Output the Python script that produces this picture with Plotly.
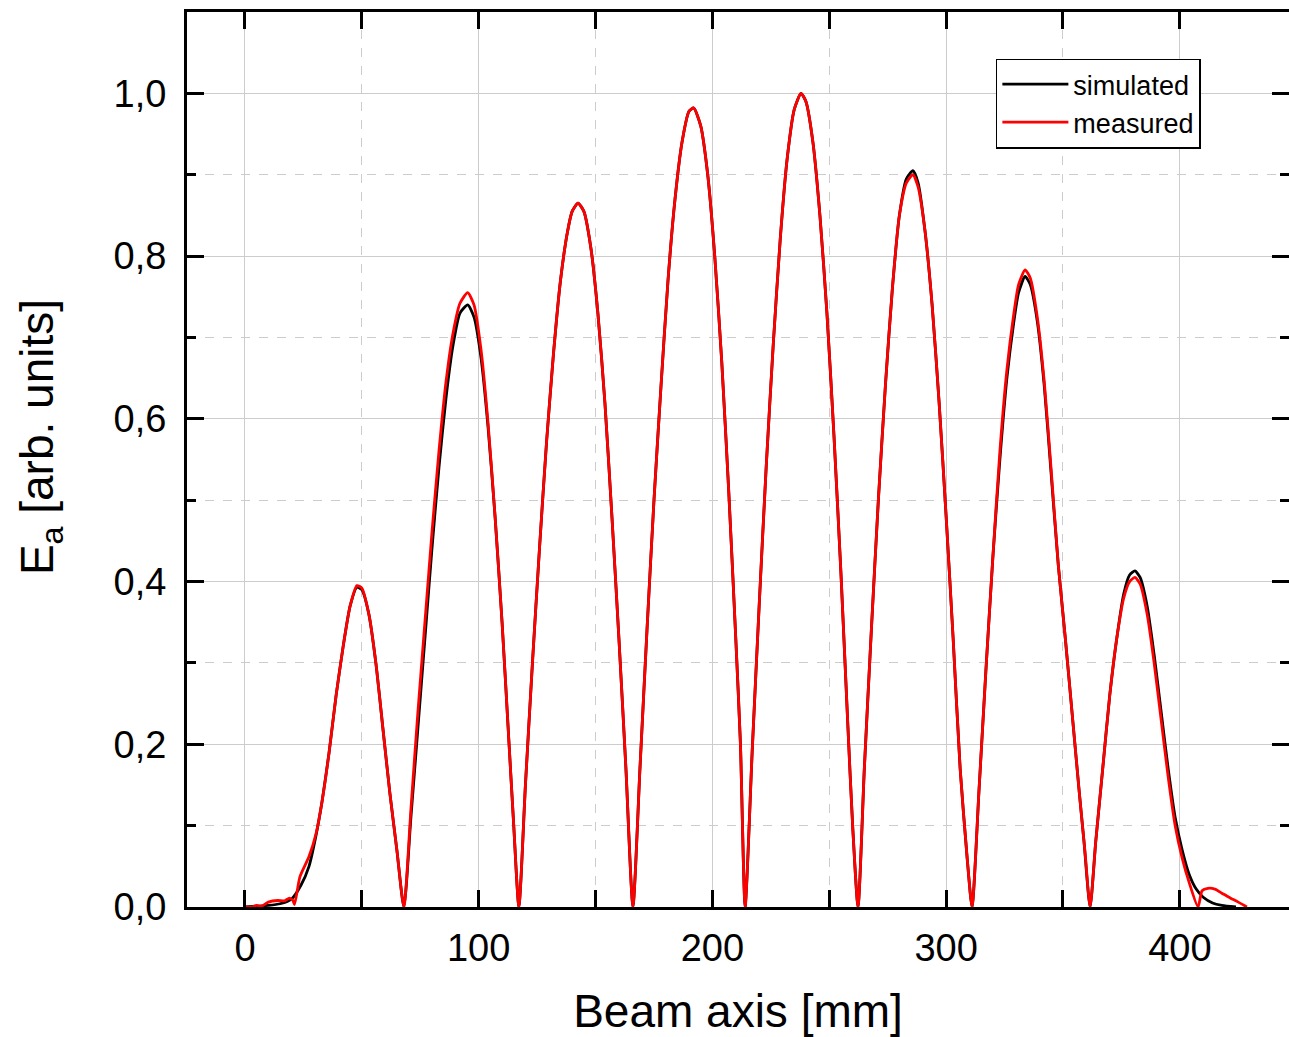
import plotly.graph_objects as go

# ---- data ----
sim_x = [0, 5, 10, 15, 20, 24, 27.4, 30.4, 33, 36, 39, 42, 45, 47.9, 50, 53, 56, 59, 62, 65, 68.0,
         71, 74, 77, 80, 83, 86, 89, 92, 95.3, 98, 101, 104, 107, 110, 113, 115, 117.2,
         120, 123, 126, 129, 132, 135, 138, 140, 142.5, 145, 148, 151, 154, 157, 160, 163, 166.0,
         169, 172, 175, 178, 181, 184, 187, 190, 192, 195, 198, 201, 204, 207, 210, 212, 214.0,
         217, 220, 223, 226, 229, 232, 235, 237.9, 240, 243, 246, 249, 252, 255, 258, 260, 262.3,
         265, 268, 271, 274, 277, 280, 283, 285.8, 288, 291, 294, 297, 300, 303, 306, 309, 311.1,
         314, 317, 320, 323, 326, 329, 331, 333.8, 336, 339, 342, 345, 348, 351, 354, 357, 359, 361.6,
         364, 367, 370, 373, 376, 378.5, 380.8, 383, 386, 389, 392, 395, 398, 401, 404, 407, 410, 414, 418, 424]
sim_y = [0, 0.001, 0.002, 0.004, 0.01, 0.027, 0.05, 0.088, 0.13, 0.19, 0.26, 0.32, 0.37, 0.393, 0.39, 0.36, 0.30, 0.22, 0.14, 0.07, 0.0,
         0.11, 0.22, 0.33, 0.44, 0.54, 0.625, 0.69, 0.73, 0.74, 0.725, 0.675, 0.59, 0.48, 0.35, 0.2, 0.1, 0.0,
         0.15, 0.3, 0.44, 0.57, 0.68, 0.77, 0.83, 0.855, 0.865, 0.855, 0.81, 0.73, 0.62, 0.48, 0.33, 0.17, 0.0,
         0.17, 0.34, 0.5, 0.64, 0.77, 0.87, 0.94, 0.978, 0.982, 0.96, 0.9, 0.8, 0.67, 0.51, 0.33, 0.2, 0.0,
         0.19, 0.37, 0.54, 0.69, 0.82, 0.92, 0.98, 1.0, 0.99, 0.94, 0.85, 0.73, 0.58, 0.41, 0.22, 0.1, 0.0,
         0.17, 0.34, 0.5, 0.64, 0.76, 0.85, 0.895, 0.905, 0.89, 0.83, 0.74, 0.62, 0.48, 0.33, 0.17, 0.06, 0.0,
         0.14, 0.29, 0.43, 0.55, 0.65, 0.72, 0.755, 0.775, 0.765, 0.72, 0.64, 0.53, 0.42, 0.33, 0.235, 0.14, 0.08, 0.0,
         0.08, 0.17, 0.26, 0.33, 0.385, 0.408, 0.413, 0.405, 0.37, 0.31, 0.24, 0.17, 0.11, 0.07, 0.04, 0.022, 0.012, 0.005, 0.002, 0.0]

meas_x = [0, 3, 5, 7, 10, 14, 17, 19, 20.5, 21.2, 23.5, 27.4, 30.4, 33, 36, 39, 42, 45, 47.9, 50, 53, 56, 59, 62, 65, 68.0,
          71, 74, 77, 80, 83, 86, 89, 92, 95.3, 98, 101, 104, 107, 110, 113, 115, 117.2,
          120, 123, 126, 129, 132, 135, 138, 140, 142.5, 145, 148, 151, 154, 157, 160, 163, 166.0,
          169, 172, 175, 178, 181, 184, 187, 190, 192, 195, 198, 201, 204, 207, 210, 212, 214.0,
          217, 220, 223, 226, 229, 232, 235, 237.9, 240, 243, 246, 249, 252, 255, 258, 260, 262.3,
          265, 268, 271, 274, 277, 280, 283, 285.8, 288, 291, 294, 297, 300, 303, 306, 309, 311.1,
          314, 317, 320, 323, 326, 329, 331, 333.8, 336, 339, 342, 345, 348, 351, 354, 357, 359.5, 361.6,
          364, 367, 370, 373, 376, 378.5, 380.8, 383, 386, 389, 392, 395, 398, 401, 404, 407.8,
          409.5, 412, 415, 418, 421, 425, 428.7]
meas_y = [0, 0.0, 0.002, 0.001, 0.006, 0.008, 0.0075, 0.011, 0.008, 0.003, 0.037, 0.062, 0.09, 0.13, 0.19, 0.26, 0.32, 0.37, 0.395, 0.392, 0.36, 0.30, 0.22, 0.14, 0.07, 0.0,
          0.12, 0.24, 0.35, 0.46, 0.56, 0.645, 0.705, 0.742, 0.755, 0.74, 0.685, 0.595, 0.48, 0.35, 0.2, 0.1, 0.0,
          0.15, 0.3, 0.44, 0.57, 0.68, 0.77, 0.83, 0.855, 0.865, 0.855, 0.81, 0.73, 0.62, 0.48, 0.33, 0.17, 0.0,
          0.17, 0.34, 0.5, 0.64, 0.77, 0.87, 0.94, 0.978, 0.982, 0.96, 0.9, 0.8, 0.67, 0.51, 0.33, 0.2, 0.0,
          0.19, 0.37, 0.54, 0.69, 0.82, 0.92, 0.98, 1.0, 0.99, 0.94, 0.85, 0.73, 0.58, 0.41, 0.22, 0.1, 0.0,
          0.17, 0.34, 0.5, 0.64, 0.76, 0.85, 0.89, 0.90, 0.885, 0.83, 0.74, 0.62, 0.48, 0.33, 0.17, 0.06, 0.0,
          0.14, 0.29, 0.43, 0.56, 0.66, 0.73, 0.765, 0.783, 0.773, 0.725, 0.645, 0.535, 0.42, 0.33, 0.235, 0.14, 0.065, 0.0,
          0.08, 0.17, 0.26, 0.33, 0.38, 0.40, 0.405, 0.397, 0.36, 0.30, 0.23, 0.16, 0.1, 0.06, 0.03, 0.0,
          0.02, 0.023, 0.022, 0.017, 0.012, 0.006, 0.0]

x_tick_vals = [0, 100, 200, 300, 400]
y_tick_vals = [0.0, 0.2, 0.4, 0.6, 0.8, 1.0]
y_tick_text = ["0,0", "0,2", "0,4", "0,6", "0,8", "1,0"]

FONT = "Liberation Sans, Arial, sans-serif"
GRID = "#cccccc"

fig = go.Figure()
fig.add_trace(go.Scatter(x=sim_x, y=sim_y, mode="lines", name="simulated",
                         line=dict(color="black", width=2.8, shape="spline", smoothing=0.6)))
fig.add_trace(go.Scatter(x=meas_x, y=meas_y, mode="lines", name="measured",
                         line=dict(color="#ff0000", width=2.8, shape="spline", smoothing=0.6)))
# invisible trace to carry right-side ticks
fig.add_trace(go.Scatter(x=[None], y=[None], yaxis="y2", showlegend=False, hoverinfo="skip"))

fig.update_layout(
    width=1289, height=1037,
    margin=dict(l=187, r=0, t=12, b=130),
    paper_bgcolor="white", plot_bgcolor="white",
    font=dict(family=FONT, color="black"),
    showlegend=True,
    legend=dict(x=0.734, y=0.948, xanchor="left", yanchor="top",
                bordercolor="black", borderwidth=1.5, bgcolor="white",
                font=dict(size=27, family=FONT), tracegroupgap=0, itemwidth=66),
    xaxis=dict(range=[-24.8, 446.7], tickvals=x_tick_vals, ticks="inside", ticklen=17, tickwidth=2.5,
               tickcolor="black", showline=True, linecolor="black", linewidth=3, mirror="allticks",
               showgrid=True, gridcolor=GRID, gridwidth=1, zeroline=False,
               tickfont=dict(size=38, family=FONT), ticklabelstandoff=5,
               minor=dict(dtick=50, tick0=0, ticks="inside", ticklen=9, tickwidth=2.5, tickcolor="black",
                          showgrid=True, gridcolor=GRID, griddash="dash", gridwidth=1),
               title=dict(text="Beam axis [mm]", font=dict(size=46, family=FONT), standoff=28)),
    yaxis=dict(range=[0, 1.1], tickvals=y_tick_vals, ticktext=y_tick_text, ticks="inside", ticklen=17,
               tickwidth=2.5, tickcolor="black", showline=True, linecolor="black", linewidth=3,
               showgrid=True, gridcolor=GRID, gridwidth=1, zeroline=False,
               tickfont=dict(size=38, family=FONT), ticklabelstandoff=10,
               minor=dict(dtick=0.1, tick0=0, ticks="inside", ticklen=9, tickwidth=2.5, tickcolor="black",
                          showgrid=True, gridcolor=GRID, griddash="dash", gridwidth=1)),
    yaxis2=dict(range=[0, 1.1], overlaying="y", side="right", tickvals=y_tick_vals, showticklabels=False,
                ticks="inside", ticklen=17, tickwidth=2.5, tickcolor="black", showline=False,
                showgrid=False, zeroline=False,
                minor=dict(dtick=0.1, tick0=0, ticks="inside", ticklen=9, tickwidth=2.5, tickcolor="black")),
    annotations=[dict(text="E<sub>a</sub> [arb. units]", textangle=-90, xref="paper", yref="paper",
                      x=-0.1334, y=0.525, xanchor="center", yanchor="middle", showarrow=False,
                      font=dict(size=46, family=FONT, color="black"))],
)

fig.write_html("out.html")
